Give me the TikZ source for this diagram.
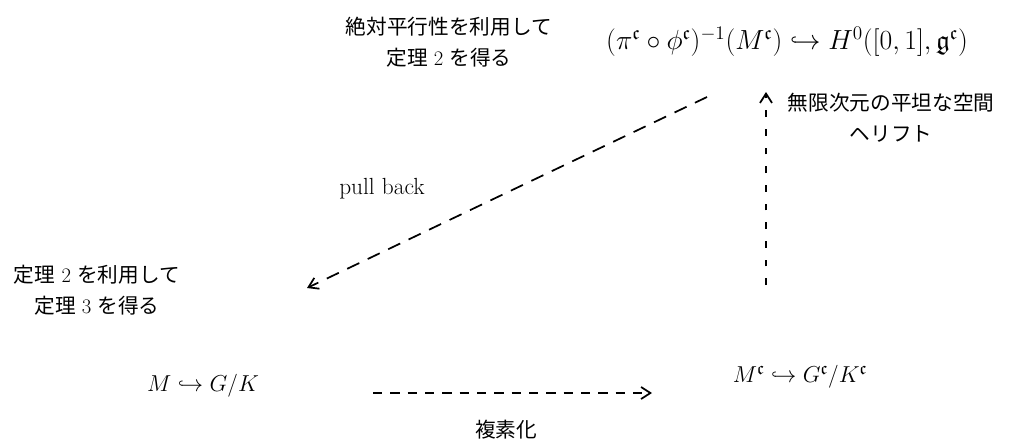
\documentclass[tikz,border=0pt]{standalone}
\usepackage{amssymb}
\usepackage{fontspec}
\usepackage{tikz}
\usetikzlibrary{arrows.meta}
\newfontfamily\jpfont{Noto Sans CJK JP}
\newcommand{\jp}[1]{{\jpfont #1}}
\tikzset{
  note/.style={align=center, font=\fontsize{15.5}{23}\selectfont, inner sep=0pt},
  formula/.style={font=\fontsize{19}{23}\selectfont, inner sep=0pt},
  dasharrow/.style={line width=1.3pt, -{Straight Barb[length=7pt,width=9pt]}},
}
\begin{document}
\begin{tikzpicture}[x=0.75pt, y=-0.75pt]
        \useasboundingbox (0,0) rectangle (1013,444);                         %
        \node[note]    (absnote)  at (449,42)  {\jp{絶対平行性を利用して}\\\jp{定理}\ 2\ \jp{を得る}};
        \node[formula, font=\fontsize{20.5}{23}\selectfont]
                       (lift)     at (787,42)  {$(\pi^{\mathfrak c}\circ\phi^{\mathfrak c})^{-1}(M^{\mathfrak c})\hookrightarrow H^0([0,1],\mathfrak g^{\mathfrak c})$};
        \node[note]    (flatnote) at (891,118) {\jp{無限次元の平坦な空間}\\\jp{ヘリフト}};
        \node[note, font=\fontsize{17.5}{23}\selectfont]
                       (pull)     at (382,189) {pull back};              %
        \node[note]    (thmnote)  at (97,290)  {\jp{定理}\ 2\ \jp{を利用して}\\\jp{定理}\ 3\ \jp{を得る}};
        \node[formula] (real)     at (203,386) {$M\hookrightarrow G/K$}; %
        \node[formula] (cpx)      at (800,377) {$M^{\mathfrak c}\hookrightarrow G^{\mathfrak c}/K^{\mathfrak c}$};
        \node[note]    (cpxnote)  at (506,430) {\jp{複素化}};           %

        \coordinate (diagA) at (707,97);  \coordinate (diagB) at (307,288);
        \coordinate (vertA) at (766,285); \coordinate (vertB) at (766,92);
        \coordinate (horA)  at (373,393); \coordinate (horB)  at (652,393);

        \draw [dasharrow, dash pattern=on 10pt off 7pt] (diagA) -- (diagB); %pull back
        \draw [dasharrow, dash pattern=on 5pt off 9pt]  (vertA) -- (vertB); %lift
        \draw [dasharrow, dash pattern=on 7pt off 6pt]  (horA)  -- (horB);  %complexify
\end{tikzpicture}
\end{document}
